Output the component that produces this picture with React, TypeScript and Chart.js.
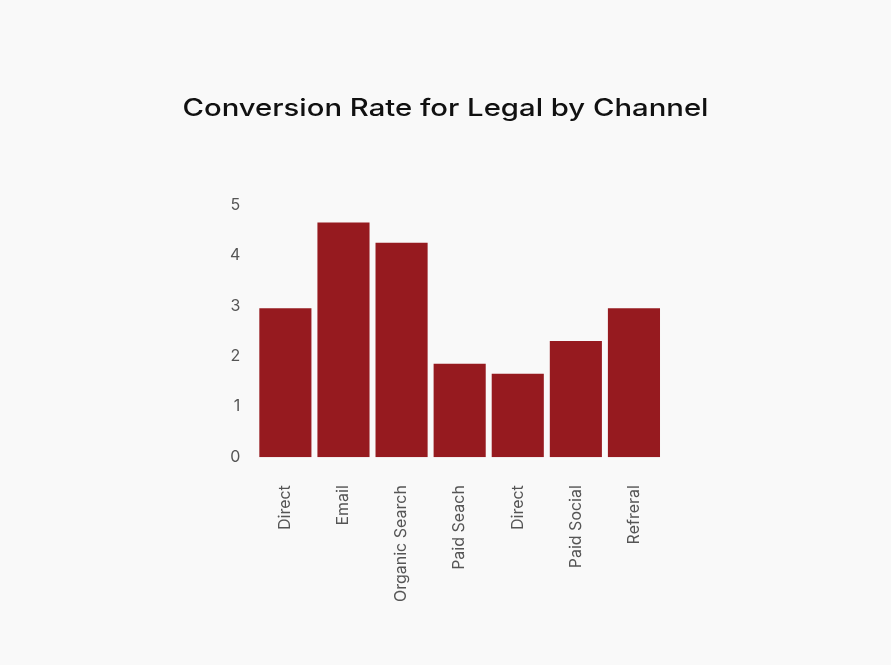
import { useEffect, useRef } from "react";
import { Chart, registerables } from "chart.js";

Chart.register(...registerables);

const channels = ["Direct", "Email", "Organic Search", "Paid Seach", "Direct", "Paid Social", "Refreral"];
const conversionRates = [2.95, 4.65, 4.25, 1.85, 1.65, 2.3, 2.95];
const yTicks = [0, 1, 2, 3, 4, 5];

const TITLE = "Conversion Rate for Legal by Channel";
const TITLE_FONT = "500 24px Inter";

// the reference title uses an extended face; stretch the title sideways to get close
const titleStretch = {
  id: "titleStretch",
  beforeDraw: (chart: Chart) => {
    const ctx = chart.ctx;
    ctx.save();
    ctx.font = TITLE_FONT;
    const w = ctx.measureText(TITLE).width;
    const block = (chart as any).titleBlock;
    const from = block ? (block.left + block.right) / 2 : chart.width / 2;
    const to = chart.width / 2;
    ctx.translate(to, 0);
    ctx.scale(526 / w, 1);
    ctx.translate(-from, 0);
  },
  beforeDatasetsDraw: (chart: Chart) => {
    chart.ctx.restore();
  },
};

const App = () => {
  const canvasRef = useRef<HTMLCanvasElement | null>(null);
  const chartRef = useRef<Chart | null>(null);

  useEffect(() => {
    document.body.style.margin = "0";
    document.body.style.background = "#f9f9f9";
    const ctx = canvasRef.current?.getContext("2d");
    if (!ctx) return;

    chartRef.current = new Chart(ctx, {
      type: "bar",
      data: {
        labels: channels,
        datasets: [
          {
            label: "Conversion Rate",
            data: conversionRates,
            backgroundColor: "#961a1f",
            borderWidth: 0,
            barPercentage: 0.897,
            categoryPercentage: 1,
          },
        ],
      },
      plugins: [titleStretch],
      options: {
        responsive: false,
        animation: false,
        layout: { padding: { left: 214, right: 228, top: 0, bottom: 35 } },
        plugins: {
          legend: { display: false },
          tooltip: { enabled: false },
          title: {
            display: true,
            text: TITLE,
            color: "#111111",
            font: { family: "Inter", size: 24, weight: 500 },
            padding: { top: 94, bottom: 82 },
          },
        },
        scales: {
          x: {
            grid: { display: false, drawTicks: false },
            border: { display: false },
            ticks: {
              z: 1,
              color: "#555555",
              font: { family: "Inter", size: 16 },
              maxRotation: 90,
              minRotation: 90,
              padding: 28,
            },
          },
          y: {
            min: 0,
            max: 5,
            grid: { display: false, drawTicks: false },
            border: { display: false },
            afterBuildTicks: (axis) => {
              axis.ticks = yTicks.map((v) => ({ value: v }));
            },
            ticks: {
              z: 1,
              color: "#555555",
              font: { family: "Inter", size: 16 },
              padding: 16,
            },
          },
        },
      },
    });

    return () => {
      chartRef.current?.destroy();
      chartRef.current = null;
    };
  }, []);

  return (
    <div style={{ width: 891, height: 665, background: "#f9f9f9" }}>
      <canvas ref={canvasRef} width={891} height={665}></canvas>
    </div>
  );
};

export default App;
